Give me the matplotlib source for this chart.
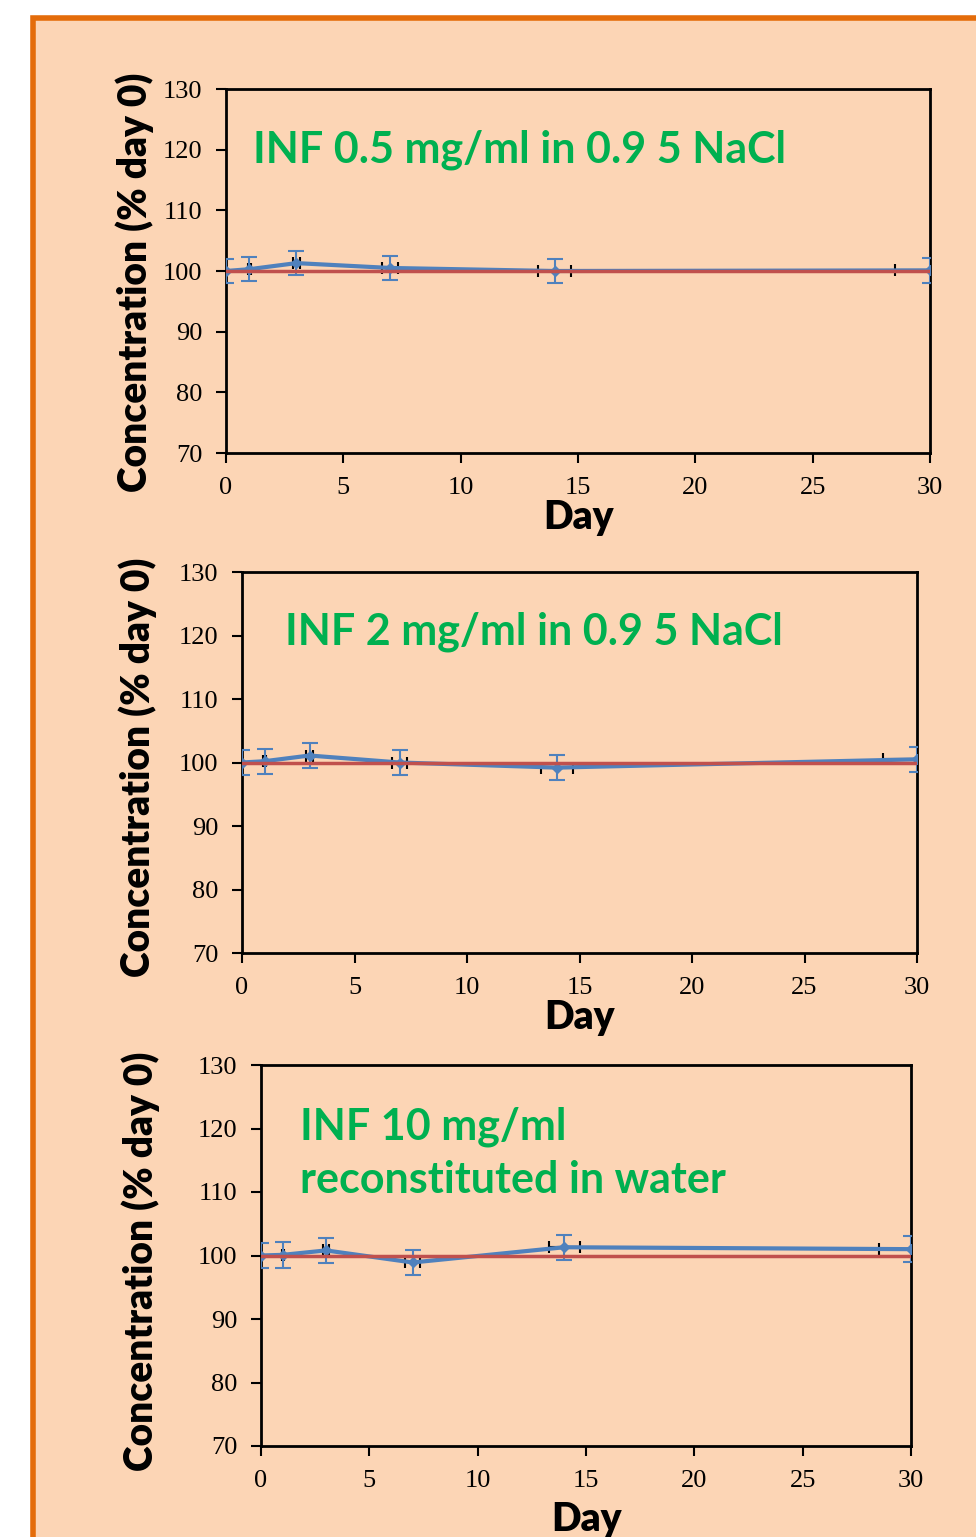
import numpy as np
import matplotlib
matplotlib.use("Agg")
import matplotlib.pyplot as plt
from matplotlib.patches import Rectangle

days = [0, 1, 3, 7, 14, 30]
conc_05 = [100.0, 100.3, 101.3, 100.5, 100.0, 100.1]
conc_2 = [100.0, 100.2, 101.1, 100.0, 99.2, 100.5]
conc_10 = [100.0, 100.1, 100.8, 98.9, 101.3, 101.0]
yerr = 2.0
xerr_frac = 0.05
ref_days = [0, 30]
ref_conc = [100, 100]

titles = ["INF 0.5 mg/ml in 0.9 5 NaCl",
          "INF 2 mg/ml in 0.9 5 NaCl",
          "INF 10 mg/ml\nreconstituted in water"]

W, H = 976, 1537
fig = plt.figure(figsize=(W / 100, H / 100), dpi=100)
fig.patch.set_facecolor("white")
# peach panel with orange frame (only left/top edges visible)
fig.patches.append(Rectangle((33 / W, -0.1), 1.2, 1 - 18 / H + 0.1, transform=fig.transFigure,
                             facecolor="#FCD5B5", edgecolor="#E46C0A", linewidth=4, zorder=-10))

# pixel boxes: left, right, top, bottom
boxes = [(226, 930, 89, 453), (242, 917, 572, 953), (261, 911, 1065, 1446)]
title_pos = [(253, 150), (285, 632), (300, 1153)]
ylab_xy = [(135, 282), (138, 767), (141, 1261)]
xlab_y = [518, 1018, 1520]

serif = "Liberation Serif"
sans = ["Lato", "DejaVu Sans"]

for i, (vals, (l, r, t, b)) in enumerate(zip([conc_05, conc_2, conc_10], boxes)):
    ax = fig.add_axes([l / W, 1 - b / H, (r - l) / W, (b - t) / H])
    ax.set_facecolor("none")
    x = np.array(days, float)
    ax.errorbar(days, vals, xerr=x * xerr_frac, fmt="none", ecolor="black",
                elinewidth=1.5, capsize=4, capthick=1.5, zorder=2)
    ax.errorbar(days, vals, yerr=yerr, color="#4F81BD", lw=3, marker="D", ms=5,
                ecolor="#4F81BD", elinewidth=1.5, capsize=6, capthick=1.5, zorder=3)
    ax.plot(ref_days, ref_conc, color="#C0504D", lw=2.5, zorder=4)
    ax.set_xlim(0, 30)
    ax.set_ylim(70, 130)
    ax.set_xticks(range(0, 31, 5))
    ax.set_yticks(range(70, 131, 10))
    for s in ax.spines.values():
        s.set_linewidth(2)
    ax.tick_params(direction="out", length=7, width=1.5, labelsize=19)
    ax.tick_params(axis="x", pad=10)
    ax.tick_params(axis="y", pad=10)
    for lab in ax.get_xticklabels() + ax.get_yticklabels():
        lab.set_family(serif)
    ax.set_xlabel("Day", fontsize=28, fontweight="heavy", family=sans)
    ax.xaxis.set_label_coords(0.5, 1 - (xlab_y[i] - t) / (b - t))
    ax.xaxis.label.set_va("center")
    ax.set_ylabel("Concentration (% day 0)", fontsize=28, fontweight="heavy", family=sans)
    lx, ly = ylab_xy[i]
    ax.yaxis.set_label_coords((lx - l) / (r - l), 1 - (ly - t) / (b - t))
    ax.yaxis.label.set_va("center")
    tx, ty = title_pos[i]
    fig.text(tx / W, 1 - ty / H, titles[i], color="#00B050", fontsize=31,
             fontweight="bold", family=sans, va="center", ha="left", linespacing=1.4)

fig.savefig("out.png", dpi=100, facecolor=fig.get_facecolor())
